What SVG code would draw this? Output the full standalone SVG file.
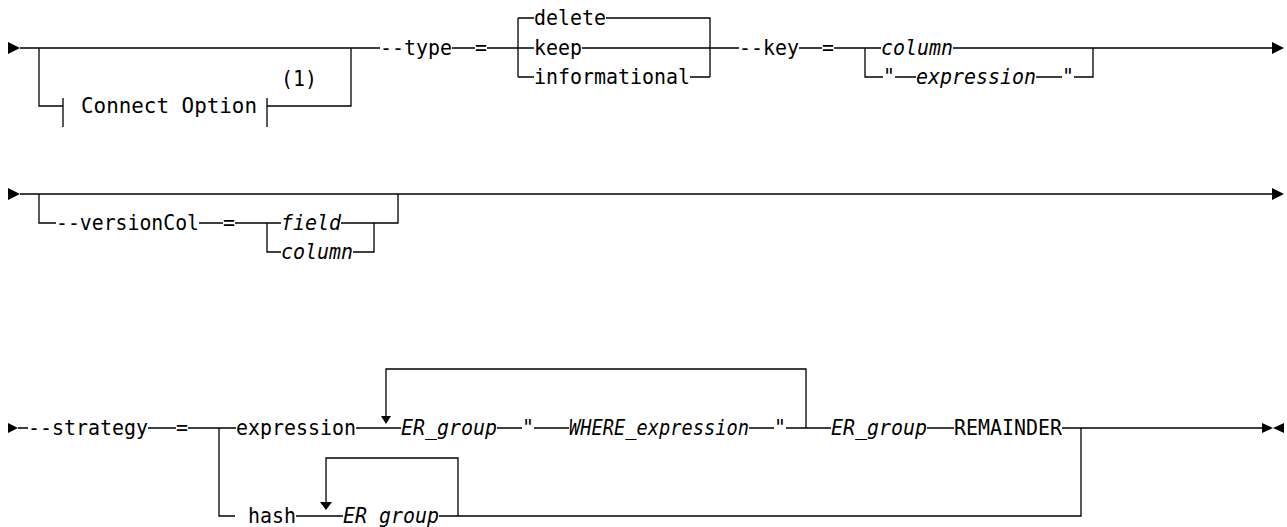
<svg xmlns="http://www.w3.org/2000/svg" width="1287" height="527" viewBox="0 0 1287 527">
<style>
text{font-family:"DejaVu Sans Mono","Liberation Mono",monospace;font-size:21px;fill:#000}
.v{font-style:italic}
.ln{fill:none;stroke:#000;stroke-width:1.3}
.ar{fill:#000}
</style>
<rect width="1287" height="527" fill="#fff"/>
<g id="connectors">
<path class="ln" d="M20,48H380M452,48H475M487,48H534M582,48H739M799,48H822M834,48H881M953,48H1272"/>
<path class="ln" d="M518,18V77M518,18H534M518,77H534M606,18H710V77M690,77H710"/>
<path class="ln" d="M39,48V106H63M63,98V127M267,98V127M267,106H351V48"/>
<path class="ln" d="M865,48V77H883M895,77H916M1036,77H1062M1074,77H1093V48"/>
<path class="ln" d="M20,194H1272M39,194V223H56M199,223H223M235,223H281M341,223H398V194M267,223V252H281M353,252H374V223"/>
<path class="ln" d="M18,428H28M148,428H176M188,428H236M356,428H401M497,428H522M534,428H569M749,428H774M786,428H831M927,428H954M1062,428H1262"/>
<path class="ln" d="M386,416V369H806V428M219,428V516H235M296,516H343M439,516H1081V428M326,502V458H458V516"/>
<polygon class="ar" points="8,42 8,54 20,48"/>
<polygon class="ar" points="1272,42 1272,54 1284,48"/>
<polygon class="ar" points="8,188 8,200 20,194"/>
<polygon class="ar" points="1272,188 1272,200 1284,194"/>
<polygon class="ar" points="8,423 8,433 18,428"/>
<polygon class="ar" points="381,416 391,416 386,424"/>
<polygon class="ar" points="320,502 332,502 326,510"/>
<polygon class="ar" points="1262,423 1262,433 1273,428"/>
<polygon class="ar" points="1284,423 1284,433 1273,428"/>
</g>
<g id="connect-option"><text x="81" y="113" textLength="176" lengthAdjust="spacingAndGlyphs">Connect Option</text></g>
<g id="note-1"><text x="281" y="86" textLength="36" lengthAdjust="spacingAndGlyphs">(1)</text></g>
<g id="type"><text x="380" y="55" textLength="72" lengthAdjust="spacingAndGlyphs">--type</text></g>
<g id="type-eq"><text x="475" y="55" textLength="12" lengthAdjust="spacingAndGlyphs">=</text></g>
<g id="delete"><text x="534" y="25" textLength="72" lengthAdjust="spacingAndGlyphs">delete</text></g>
<g id="keep"><text x="534" y="55" textLength="48" lengthAdjust="spacingAndGlyphs">keep</text></g>
<g id="informational"><text x="534" y="84" textLength="156" lengthAdjust="spacingAndGlyphs">informational</text></g>
<g id="key"><text x="739" y="55" textLength="60" lengthAdjust="spacingAndGlyphs">--key</text></g>
<g id="key-eq"><text x="822" y="55" textLength="12" lengthAdjust="spacingAndGlyphs">=</text></g>
<g id="key-column"><text class="v" x="881" y="55" textLength="72" lengthAdjust="spacingAndGlyphs">column</text></g>
<g id="q1"><text x="883" y="84" textLength="12" lengthAdjust="spacingAndGlyphs">"</text></g>
<g id="key-expression"><text class="v" x="916" y="84" textLength="120" lengthAdjust="spacingAndGlyphs">expression</text></g>
<g id="q2"><text x="1062" y="84" textLength="12" lengthAdjust="spacingAndGlyphs">"</text></g>
<g id="versionCol"><text x="56" y="230" textLength="143" lengthAdjust="spacingAndGlyphs">--versionCol</text></g>
<g id="vc-eq"><text x="223" y="230" textLength="12" lengthAdjust="spacingAndGlyphs">=</text></g>
<g id="field"><text class="v" x="281" y="230" textLength="60" lengthAdjust="spacingAndGlyphs">field</text></g>
<g id="vc-column"><text class="v" x="281" y="259" textLength="72" lengthAdjust="spacingAndGlyphs">column</text></g>
<g id="strategy"><text x="28" y="435" textLength="120" lengthAdjust="spacingAndGlyphs">--strategy</text></g>
<g id="st-eq"><text x="176" y="435" textLength="12" lengthAdjust="spacingAndGlyphs">=</text></g>
<g id="expression"><text x="236" y="435" textLength="120" lengthAdjust="spacingAndGlyphs">expression</text></g>
<g id="er-group-1"><text class="v" x="401" y="435" textLength="96" lengthAdjust="spacingAndGlyphs">ER_group</text></g>
<g id="q3"><text x="522" y="435" textLength="12" lengthAdjust="spacingAndGlyphs">"</text></g>
<g id="where"><text class="v" x="569" y="435" textLength="180" lengthAdjust="spacingAndGlyphs">WHERE_expression</text></g>
<g id="q4"><text x="774" y="435" textLength="12" lengthAdjust="spacingAndGlyphs">"</text></g>
<g id="er-group-2"><text class="v" x="831" y="435" textLength="96" lengthAdjust="spacingAndGlyphs">ER_group</text></g>
<g id="remainder"><text x="954" y="435" textLength="108" lengthAdjust="spacingAndGlyphs">REMAINDER</text></g>
<g id="hash"><text x="248" y="523" textLength="48" lengthAdjust="spacingAndGlyphs">hash</text></g>
<g id="er-group-3"><text class="v" x="343" y="523" textLength="96" lengthAdjust="spacingAndGlyphs">ER_group</text></g>
</svg>
